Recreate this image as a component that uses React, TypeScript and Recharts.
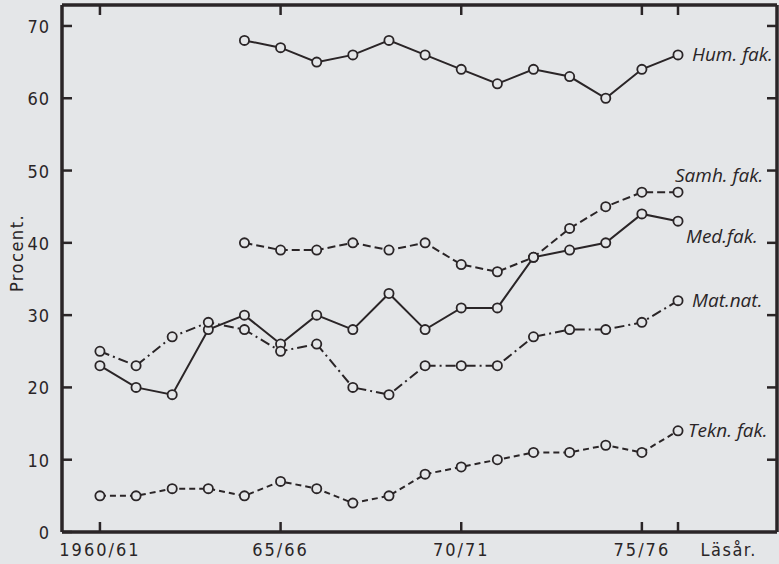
import React from "react";
import { LineChart, Line, XAxis, YAxis } from "recharts";

// läsår index 0 = 1960/61 ... 16 = 1976/77
const years = [0, 1, 2, 3, 4, 5, 6, 7, 8, 9, 10, 11, 12, 13, 14, 15, 16];

const hum = [null, null, null, null, 68, 67, 65, 66, 68, 66, 64, 62, 64, 63, 60, 64, 66];
const samh = [null, null, null, null, 40, 39, 39, 40, 39, 40, 37, 36, 38, 42, 45, 47, 47];
const med = [23, 20, 19, 28, 30, 26, 30, 28, 33, 28, 31, 31, 38, 39, 40, 44, 43];
const matnat = [25, 23, 27, 29, 28, 25, 26, 20, 19, 23, 23, 23, 27, 28, 28, 29, 32];
const tekn = [5, 5, 6, 6, 5, 7, 6, 4, 5, 8, 9, 10, 11, 11, 12, 11, 14];

const xTicks = [0, 5, 10, 15, 16];
const xTickLabels: Record<number, string> = { 0: "1960/61", 5: "65/66", 10: "70/71", 15: "75/76", 16: "" };
const yTicks = [0, 10, 20, 30, 40, 50, 60, 70];

const data = years.map((y, i) => ({
  year: y,
  hum: hum[i],
  samh: samh[i],
  med: med[i],
  matnat: matnat[i],
  tekn: tekn[i],
}));

const W = 779;
const H = 564;
const RIGHT_W = 2; // right frame axis width
const INK = "#2a2527";
const PAPER = "#e4e6e8";
const FONT = "'DejaVu Sans Condensed', 'DejaVu Sans', sans-serif";
const LABEL_FONT = "'Open Sans', 'DejaVu Sans', sans-serif";

const series = [
  { key: "hum", name: "Hum. fak.", dash: undefined, dx: 14, dy: 6 },
  { key: "samh", name: "Samh. fak.", dash: "8 4", dx: -3, dy: -10 },
  { key: "med", name: "Med.fak.", dash: undefined, dx: 8, dy: 22 },
  { key: "matnat", name: "Mat.nat.", dash: "10 4 2 4", dx: 14, dy: 6 },
  { key: "tekn", name: "Tekn. fak.", dash: "6 4", dx: 10, dy: 6 },
];

const BottomTick = (props: any) => {
  const { x, y, payload } = props;
  return (
    <g>
      <line x1={x} x2={x} y1={y - 10} y2={y} stroke={INK} strokeWidth={2.5} />
      <text x={x} y={y + 24} textAnchor="middle" fill={INK} fontSize={18} letterSpacing={2} fontFamily={FONT}>
        {xTickLabels[payload.value]}
      </text>
    </g>
  );
};

const TopTick = (props: any) => {
  const { x, y } = props;
  return <line x1={x} x2={x} y1={y} y2={y + 10} stroke={INK} strokeWidth={2.5} />;
};

// left ticks point inward; the right frame gets matching inward ticks
const LeftTick = (props: any) => {
  const { x, y, payload } = props;
  const rx = W - RIGHT_W;
  return (
    <g>
      <line x1={x} x2={x + 10} y1={y} y2={y} stroke={INK} strokeWidth={2.5} />
      {payload.value !== 0 && <line x1={rx - 10} x2={rx} y1={y} y2={y} stroke={INK} strokeWidth={2.5} />}
      <text x={x - 12} y={y + 7} textAnchor="end" fill={INK} fontSize={18} letterSpacing={1} fontFamily={FONT}>
        {payload.value}
      </text>
    </g>
  );
};

const endLabel = (name: string, dx: number, dy: number) => (props: any) => {
  const { x, y, index } = props;
  if (index !== years.length - 1) return null;
  return (
    <text x={x + dx} y={y + dy} fill={INK} fontSize={19} fontStyle="italic" fontFamily={LABEL_FONT}>
      {name}
    </text>
  );
};

const Dot = (props: any) => {
  const { cx, cy, value } = props;
  if (value == null || cx == null || cy == null) return <g />;
  return <circle cx={cx} cy={cy} r={4.6} fill={PAPER} stroke={INK} strokeWidth={1.8} />;
};

export default function App() {
  return (
    <div style={{ position: "absolute", left: 0, top: 0, width: W, height: H, background: PAPER }}>
      <LineChart width={W} height={H} data={data} margin={{ top: 0, right: 0, bottom: 0, left: 0 }}>
        <XAxis
          dataKey="year"
          type="number"
          domain={[-1.05, 18.74]}
          ticks={xTicks}
          interval={0}
          height={32}
          tickSize={0}
          tickMargin={0}
          tickLine={false}
          axisLine={{ stroke: INK, strokeWidth: 3.5 }}
          tick={<BottomTick />}
          label={(p: any) => {
            const vb = p.viewBox;
            return (
              <text x={vb.x + vb.width - 20} y={vb.y + 24} textAnchor="end" fill={INK} fontSize={18} letterSpacing={1.5} fontFamily={FONT}>
                Läsår.
              </text>
            );
          }}
        />
        <XAxis
          xAxisId="top"
          dataKey="year"
          type="number"
          orientation="top"
          domain={[-1.05, 18.74]}
          ticks={xTicks}
          interval={0}
          height={5}
          tickSize={0}
          tickMargin={0}
          tickLine={false}
          axisLine={{ stroke: INK, strokeWidth: 3.5 }}
          tick={<TopTick />}
        />
        <YAxis
          type="number"
          domain={[0, 72.9]}
          ticks={yTicks}
          interval={0}
          width={62}
          tickSize={0}
          tickMargin={0}
          tickLine={false}
          axisLine={{ stroke: INK, strokeWidth: 3.5 }}
          tick={<LeftTick />}
          label={() => (
            <text
              x={23}
              y={253}
              transform="rotate(-90 23 253)"
              textAnchor="middle"
              fill={INK}
              fontSize={18}
              letterSpacing={1.5}
              fontFamily={FONT}
            >
              Procent.
            </text>
          )}
        />
        <YAxis
          yAxisId="right"
          orientation="right"
          type="number"
          domain={[0, 72.9]}
          width={RIGHT_W}
          tick={false}
          tickLine={false}
          axisLine={{ stroke: INK, strokeWidth: 3.5 }}
        />
        {series.map((s) => (
          <Line
            key={s.key}
            dataKey={s.key}
            type="linear"
            stroke={INK}
            strokeWidth={2}
            strokeDasharray={s.dash}
            dot={<Dot />}
            activeDot={false}
            connectNulls={false}
            isAnimationActive={false}
            label={endLabel(s.name, s.dx, s.dy)}
          />
        ))}
      </LineChart>
    </div>
  );
}
